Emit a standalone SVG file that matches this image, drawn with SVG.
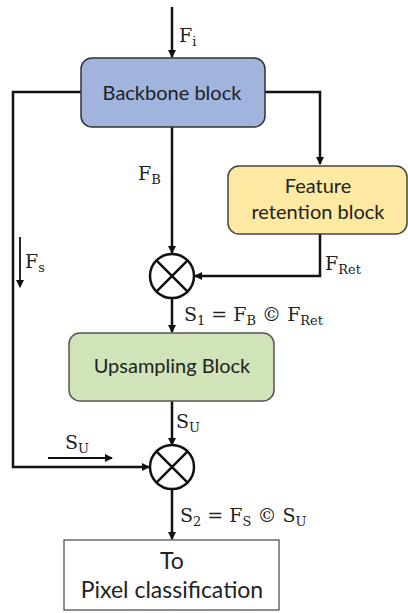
<svg xmlns="http://www.w3.org/2000/svg" width="408" height="613" viewBox="0 0 408 613">
<defs>
<marker id="ah" markerWidth="8" markerHeight="8" refX="7" refY="4" orient="auto" markerUnits="userSpaceOnUse"><path d="M0,0 L8,4 L0,8 Z" fill="#111"/></marker>
<style>
.ln{fill:none;stroke:#111;stroke-width:2.5}
.thin{fill:none;stroke:#111;stroke-width:1.8}
.blk{font-family:Lato,"Open Sans",sans-serif;font-size:20px;fill:#222;text-anchor:middle}
.big{font-size:23px}
.lab{font-family:"DejaVu Serif","Liberation Serif",serif;font-size:19px;fill:#222}
.sub{font-size:13px}
</style>
</defs>
<rect width="408" height="613" fill="#fff"/>
<g id="connectors">
<path class="ln" d="M172,7 V57" marker-end="url(#ah)"/>
<path class="ln" d="M81,92 H13 V467 H149" marker-end="url(#ah)"/>
<path class="ln" d="M265,92 H320 V164" marker-end="url(#ah)"/>
<path class="ln" d="M172,127 V253" marker-end="url(#ah)"/>
<path class="ln" d="M320,234 V276 H195" marker-end="url(#ah)"/>
<path class="ln" d="M172,298 V332" marker-end="url(#ah)"/>
<path class="ln" d="M172,401 V445" marker-end="url(#ah)"/>
<path class="ln" d="M172,489 V539" marker-end="url(#ah)"/>
<path class="thin" d="M20,237 V287" marker-end="url(#ah)"/>
<path class="thin" d="M48,458 H112" marker-end="url(#ah)"/>
</g>
<g id="labels">
<text class="lab" x="179" y="42">F<tspan class="sub" dy="4">i</tspan></text>
<text class="lab" x="138" y="180">F<tspan class="sub" dy="4">B</tspan></text>
<text class="lab" x="25" y="268">F<tspan class="sub" dy="4">s</tspan></text>
<text class="lab" x="325" y="270">F<tspan class="sub" dy="4">Ret</tspan></text>
<text class="lab" x="184" y="321">S<tspan class="sub" dy="4">1</tspan><tspan dy="-4"> = F</tspan><tspan class="sub" dy="4">B</tspan><tspan dy="-4"> © F</tspan><tspan class="sub" dy="4">Ret</tspan></text>
<text class="lab" x="176" y="428">S<tspan class="sub" dy="4">U</tspan></text>
<text class="lab" x="65" y="449">S<tspan class="sub" dy="4">U</tspan></text>
<text class="lab" x="180" y="522">S<tspan class="sub" dy="4">2</tspan><tspan dy="-4"> = F</tspan><tspan class="sub" dy="4">S</tspan><tspan dy="-4"> © S</tspan><tspan class="sub" dy="4">U</tspan></text>
</g>
<g id="backbone">
<rect x="81" y="58" width="184" height="69" rx="11" fill="#a1b4dd" stroke="#333" stroke-width="1.5"/>
<text class="blk" x="172" y="100">Backbone block</text>
</g>
<g id="feature">
<rect x="228" y="166" width="179" height="68" rx="11" fill="#fde9a1" stroke="#444" stroke-width="1.5"/>
<text class="blk" x="318" y="193">Feature</text>
<text class="blk" x="318" y="219">retention block</text>
</g>
<g id="mult1">
<circle cx="172" cy="276" r="22" fill="#fff" stroke="#111" stroke-width="2.5"/>
<path class="ln" d="M156.4,260.4 L187.6,291.6 M187.6,260.4 L156.4,291.6"/>
</g>
<g id="upsampling">
<rect x="69" y="333" width="205" height="68" rx="11" fill="#d1e3b8" stroke="#555" stroke-width="1.5"/>
<text class="blk" x="172" y="373">Upsampling Block</text>
</g>
<g id="mult2">
<circle cx="172" cy="467" r="22" fill="#fff" stroke="#111" stroke-width="2.5"/>
<path class="ln" d="M156.4,451.4 L187.6,482.6 M187.6,451.4 L156.4,482.6"/>
</g>
<g id="pixel">
<rect x="64" y="540" width="215" height="70" fill="#fff" stroke="#444" stroke-width="1.2"/>
<text class="blk big" x="172" y="569">To</text>
<text class="blk big" x="172" y="598">Pixel classification</text>
</g>
</svg>
